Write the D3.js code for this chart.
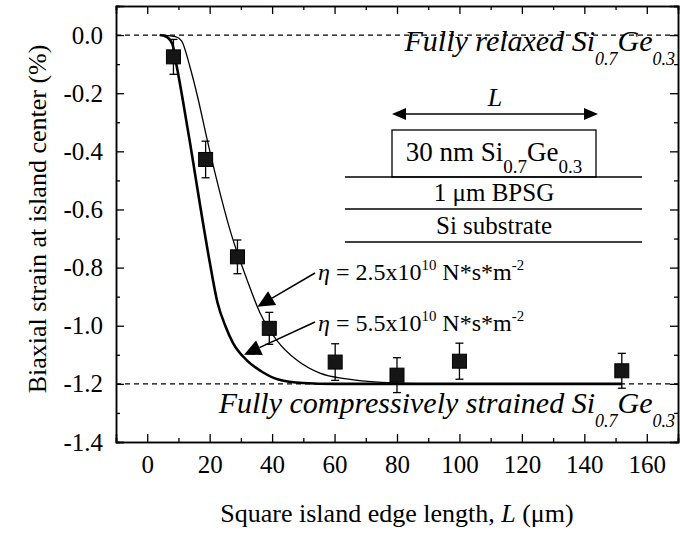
<!DOCTYPE html>
<html>
<head>
<meta charset="utf-8">
<script src="https://cdn.jsdelivr.net/npm/d3@7"></script>
<style>
body { margin: 0; background: #fff; }
svg { display: block; font-family: "Liberation Serif", "Times New Roman", serif; }
</style>
</head>
<body>
<div id="viz"></div>
<script>
// measured points (square markers)
var islandL = [8.4, 18.7, 28.9, 39.1, 60.2, 80, 100, 152];
var strain = [-0.075, -0.428, -0.763, -1.009, -1.125, -1.17, -1.122, -1.155];
var strainErr = [0.06, 0.063, 0.058, 0.055, 0.063, 0.06, 0.062, 0.06];

// model curve, eta = 2.5x10^10 (thin)
var fitThinL = [4, 9, 11, 13.7, 16.3, 19.2, 22.3, 26.5, 31.9, 36.1, 41.5, 47.9, 55.3, 63.9, 75, 90, 152];
var fitThinV = [0, -0.005, -0.02, -0.11, -0.22, -0.36, -0.5, -0.67, -0.84, -0.955, -1.05, -1.118, -1.163, -1.183, -1.195, -1.2, -1.2];

// model curve, eta = 5.5x10^10 (thick)
var fitThickL = [4, 6, 8, 9.5, 11.5, 13.7, 15.5, 17, 20, 22.5, 25, 27.5, 32, 37, 42, 50, 60, 152];
var fitThickV = [0, -0.005, -0.03, -0.11, -0.23, -0.37, -0.49, -0.59, -0.78, -0.92, -1.0, -1.06, -1.12, -1.16, -1.185, -1.197, -1.2, -1.2];

var xTicks = [0, 20, 40, 60, 80, 100, 120, 140, 160];
var xMinor = [-10, 10, 30, 50, 70, 90, 110, 130, 150, 170];
var yTicks = [0, -0.2, -0.4, -0.6, -0.8, -1.0, -1.2, -1.4];
var yMinor = [0.1, -0.1, -0.3, -0.5, -0.7, -0.9, -1.1, -1.3];
var refLevels = [0, -1.2];

var W = 680, H = 533;
// note: "top" is taken by window.top, so use a prefix
var mLeft = 116, mRight = 678, mTop = 6, mBottom = 442;

var svg = d3.select('#viz').append('svg').attr('width', W).attr('height', H);

var x = d3.scaleLinear().domain([-10, 170]).range([mLeft, mRight]);
var y = d3.scaleLinear().domain([-1.4, 0.1]).range([mBottom, mTop]);

function styleAxis(g) {
  g.selectAll('path.domain').attr('stroke', '#000').attr('stroke-width', 1.5);
  g.selectAll('.tick line').attr('stroke', '#000').attr('stroke-width', 1.3);
  g.selectAll('.tick text').attr('font-size', 25).attr('fill', '#000')
    .attr('font-family', '"Liberation Serif", "Times New Roman", serif');
}

// axes, ticks inward on all four sides
svg.append('g').attr('transform', 'translate(0,' + mBottom + ')')
  .call(d3.axisBottom(x).tickValues(xTicks).tickSize(-8).tickPadding(13).tickFormat(d3.format('d')))
  .call(styleAxis);
svg.append('g').attr('transform', 'translate(0,' + mBottom + ')')
  .call(d3.axisBottom(x).tickValues(xMinor).tickSize(-4).tickFormat(''))
  .call(styleAxis);
svg.append('g').attr('transform', 'translate(0,' + mTop + ')')
  .call(d3.axisTop(x).tickValues(xTicks).tickSize(-8).tickFormat(''))
  .call(styleAxis);
svg.append('g').attr('transform', 'translate(0,' + mTop + ')')
  .call(d3.axisTop(x).tickValues(xMinor).tickSize(-4).tickFormat(''))
  .call(styleAxis);

svg.append('g').attr('transform', 'translate(' + mLeft + ',0)')
  .call(d3.axisLeft(y).tickValues(yTicks).tickSize(-8).tickPadding(13).tickFormat(d3.format('.1f')))
  .call(styleAxis);
svg.append('g').attr('transform', 'translate(' + mLeft + ',0)')
  .call(d3.axisLeft(y).tickValues(yMinor).tickSize(-4).tickFormat(''))
  .call(styleAxis);
svg.append('g').attr('transform', 'translate(' + mRight + ',0)')
  .call(d3.axisRight(y).tickValues(yTicks).tickSize(-8).tickFormat(''))
  .call(styleAxis);
svg.append('g').attr('transform', 'translate(' + mRight + ',0)')
  .call(d3.axisRight(y).tickValues(yMinor).tickSize(-4).tickFormat(''))
  .call(styleAxis);

// d3 uses a real minus sign; original uses plain "-"
svg.selectAll('.tick text').text(function() { return this.textContent.replace('\u2212', '-'); });

// dashed reference levels
svg.append('g').selectAll('line').data(refLevels).enter().append('line')
  .attr('x1', mLeft).attr('x2', mRight)
  .attr('y1', function(d) { return y(d); }).attr('y2', function(d) { return y(d); })
  .attr('stroke', '#000').attr('stroke-width', 1.2).attr('stroke-dasharray', '5,4');

// model curves
var line = d3.line().x(function(d) { return x(d[0]); }).y(function(d) { return y(d[1]); })
  .curve(d3.curveMonotoneX);
svg.append('path').datum(d3.zip(fitThinL, fitThinV)).attr('d', line)
  .attr('fill', 'none').attr('stroke', '#000').attr('stroke-width', 1.3);
svg.append('path').datum(d3.zip(fitThickL, fitThickV)).attr('d', line)
  .attr('fill', 'none').attr('stroke', '#000').attr('stroke-width', 2.6);

// error bars + squares
var pts = d3.range(islandL.length).map(function(i) {
  return { l: islandL[i], v: strain[i], e: strainErr[i] };
});
var pg = svg.append('g').selectAll('g').data(pts).enter().append('g');
pg.append('line')
  .attr('x1', function(d) { return x(d.l); }).attr('x2', function(d) { return x(d.l); })
  .attr('y1', function(d) { return y(d.v + d.e); }).attr('y2', function(d) { return y(d.v - d.e); })
  .attr('stroke', '#000').attr('stroke-width', 1.3);
[1, -1].forEach(function(s) {
  pg.append('line')
    .attr('x1', function(d) { return x(d.l) - 4; }).attr('x2', function(d) { return x(d.l) + 4; })
    .attr('y1', function(d) { return y(d.v + s * d.e); }).attr('y2', function(d) { return y(d.v + s * d.e); })
    .attr('stroke', '#000').attr('stroke-width', 1.3);
});
pg.append('rect')
  .attr('x', function(d) { return x(d.l) - 7; }).attr('y', function(d) { return y(d.v) - 7; })
  .attr('width', 14).attr('height', 14)
  .attr('fill', '#161616').attr('stroke', '#000').attr('stroke-width', 1);

// text with sub/superscripts: parts = [[text, shift]], shift 1 = sub, -1 = sup
function richText(g, px, py, parts, size, anchor, italic, subSize) {
  var t = g.append('text').attr('x', px).attr('y', py)
    .attr('font-size', size).attr('text-anchor', anchor || 'start')
    .attr('font-style', italic ? 'italic' : 'normal').attr('fill', '#000');
  var cur = 0;
  parts.forEach(function(p) {
    var off = p[1] === 1 ? size * 0.45 : (p[1] === -1 ? -size * 0.42 : 0);
    t.append('tspan').attr('dy', off - cur)
      .attr('font-size', p[1] ? (subSize || size * 0.62) : size).text(p[0]);
    cur = off;
  });
  return t;
}

richText(svg, 675, 51, [['Fully relaxed Si', 0], ['0.7', 1], ['Ge', 0], ['0.3', 1]], 30, 'end', true, 18);
richText(svg, 675, 413, [['Fully compressively strained Si', 0], ['0.7', 1], ['Ge', 0], ['0.3', 1]], 30, 'end', true, 18);

// eta annotations with arrows
function arrow(x1, y1, x2, y2) {
  var a = Math.atan2(y2 - y1, x2 - x1), len = 17, hw = 8;
  var bx = x2 - len * Math.cos(a), by = y2 - len * Math.sin(a);
  svg.append('line').attr('x1', x1).attr('y1', y1).attr('x2', bx).attr('y2', by)
    .attr('stroke', '#000').attr('stroke-width', 1.5);
  svg.append('path')
    .attr('d', 'M' + x2 + ',' + y2 +
      'L' + (bx + hw * Math.sin(a)) + ',' + (by - hw * Math.cos(a)) +
      'L' + (bx - hw * Math.sin(a)) + ',' + (by + hw * Math.cos(a)) + 'Z')
    .attr('fill', '#000');
}
arrow(315, 273, x(35.3), y(-0.935));
arrow(315, 322, x(31), y(-1.1));
richText(svg, 318, 280, [['\u03b7', 0], [' = 2.5x10', 0], ['10', -1], [' N*s*m', 0], ['-2', -1]], 24, 'start');
richText(svg, 318, 331, [['\u03b7', 0], [' = 5.5x10', 0], ['10', -1], [' N*s*m', 0], ['-2', -1]], 24, 'start');
svg.selectAll('text tspan:first-child').filter(function() { return this.textContent === '\u03b7'; })
  .attr('font-style', 'italic');

// layer stack inset
var inset = svg.append('g');
inset.append('line').attr('x1', 401).attr('x2', 589).attr('y1', 114).attr('y2', 114)
  .attr('stroke', '#000').attr('stroke-width', 1.5);
inset.append('path').attr('d', 'M392,114L406,108L406,120Z').attr('fill', '#000');
inset.append('path').attr('d', 'M598,114L584,108L584,120Z').attr('fill', '#000');
inset.append('text').attr('x', 495).attr('y', 106).attr('font-size', 26)
  .attr('font-style', 'italic').attr('text-anchor', 'middle').text('L');
inset.append('rect').attr('x', 392).attr('y', 130).attr('width', 204).attr('height', 47)
  .attr('fill', 'none').attr('stroke', '#000').attr('stroke-width', 1.3);
[177, 209, 242].forEach(function(ly) {
  inset.append('line').attr('x1', 345).attr('x2', 642).attr('y1', ly).attr('y2', ly)
    .attr('stroke', '#000').attr('stroke-width', 1.5);
});
richText(inset, 494, 161, [['30 nm Si', 0], ['0.7', 1], ['Ge', 0], ['0.3', 1]], 27, 'middle', false, 19);
inset.append('text').attr('x', 494).attr('y', 201).attr('font-size', 25)
  .attr('text-anchor', 'middle').text('1 \u03bcm BPSG');
inset.append('text').attr('x', 494).attr('y', 234).attr('font-size', 25)
  .attr('text-anchor', 'middle').text('Si substrate');

// axis titles
var xt = svg.append('text').attr('x', (mLeft + mRight) / 2).attr('y', 522)
  .attr('font-size', 26).attr('text-anchor', 'middle');
xt.append('tspan').text('Square island edge length, ');
xt.append('tspan').attr('font-style', 'italic').text('L');
xt.append('tspan').text(' (\u03bcm)');

svg.append('text').attr('transform', 'translate(46,219) rotate(-90)')
  .attr('font-size', 26).attr('text-anchor', 'middle')
  .text('Biaxial strain at island center (%)');
</script>
</body>
</html>
